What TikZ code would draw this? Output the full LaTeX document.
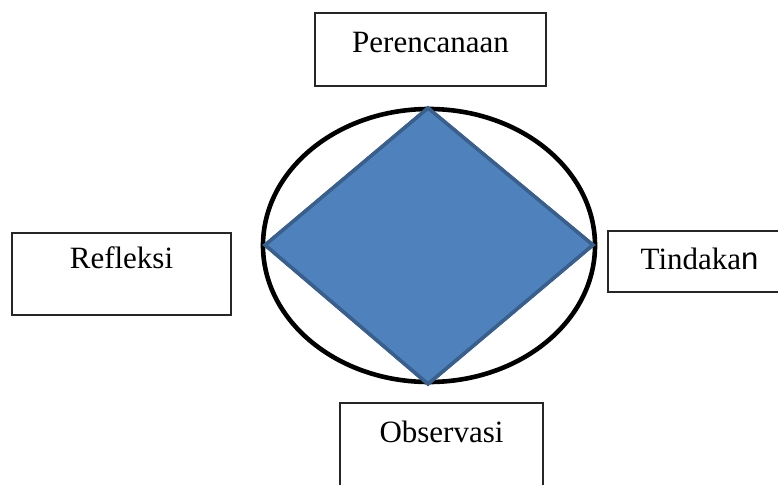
\documentclass[tikz,border=0pt]{standalone}
\usepackage{fontspec}
\setmainfont{Liberation Serif}
\newfontfamily\arialfont{Liberation Sans}
\usepackage{tikz}
\definecolor{cycleblue}{HTML}{4F81BD}
\definecolor{cycleedge}{HTML}{3A5F8B}
\tikzset{
    stagebox/.style={
        draw=black!85,
        line width=1.4pt,
        rectangle,
        inner sep=0,
        text height=21pt,
        font=\fontsize{31}{36}\selectfont,
    },
    ring/.style={
        draw=black,
        line width=4.6pt,
    },
    core/.style={
        draw=cycleedge,
        fill=cycleblue,
        line width=3.4pt,
        line join=miter,
    },
}

\begin{document}
\begin{tikzpicture}[x=1pt, y={(0pt,-1pt)}]
            \clip (0, 0) rectangle (778, 484);

            % the cycle in the middle
            \coordinate (north) at (428, 108);
            \coordinate (east)  at (593, 245);
            \coordinate (south) at (428, 384);
            \coordinate (west)  at (265, 245);

            \draw[ring] (429, 245.5) ellipse [x radius=166, y radius=136.5];
            \fill[core] (north) -- (east) -- (south) -- (west) -- cycle;
            \draw[core, fill=none] (north) -- (east) -- (south) -- (west) -- cycle;

            % the four stages
            \node[stagebox, minimum width=231pt, minimum height=73pt, text depth=14.5pt]
                at (430.5, 49.5) (plan) {Perencanaan};
            \node[stagebox, minimum width=219pt, minimum height=82pt, text depth=31.5pt]
                at (121.5, 274) (reflect) {Refleksi};
            \node[stagebox, minimum width=183pt, minimum height=61pt, text depth=4.5pt]
                at (699.5, 261.5) (act) {Tindaka{\arialfont n}};
            \node[stagebox, minimum width=203pt, minimum height=87pt, text depth=29.5pt]
                at (441.5, 446.5) (observe) {Observasi};
        \end{tikzpicture}
\end{document}
